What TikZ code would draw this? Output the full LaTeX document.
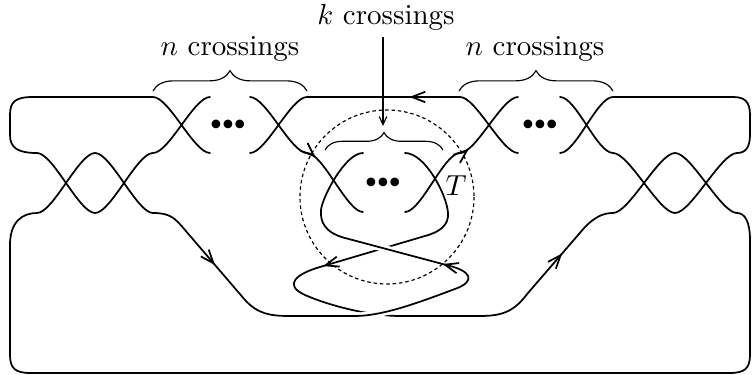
\documentclass[tikz,border=0pt]{standalone}
\usetikzlibrary{arrows.meta,decorations.markings,decorations.pathreplacing}
\begin{document}
\begin{tikzpicture}[x=0.345pt,y=-0.345pt,
    strand/.style={line width=0.6pt,line cap=round},
    over/.style={preaction={draw=white,line width=2.4pt,line cap=butt}},
    arrowat/.style={postaction={decorate},decoration={markings,mark=at position #1 with {\arrow{Straight Barb[length=4.6pt,width=3.6pt]}}}},
    crossbrace/.style={decorate,decoration={brace,amplitude=#1}}]
    \useasboundingbox (0,0) rectangle (753,375);
    \draw[strand] (210,153) .. controls (194,153) and (169,97) .. (153,97) -- (33,97)
        .. controls (15,97) and (10,102) .. (10,115) -- (10,135)
        .. controls (10,148) and (18,153) .. (37,153)
        .. controls (53,153) and (79,213) .. (95,213)
        .. controls (111,213) and (137,153) .. (153,153)
        .. controls (169,153) and (194,97) .. (210,97);
    \draw[strand] (250,97) .. controls (266,97) and (291,153) .. (307,153)
        .. controls (323,153) and (347,212) .. (363,212);
    \draw[strand] (250,153) .. controls (266,153) and (291,97) .. (307,97) -- (460,97)
        .. controls (476,97) and (502,153) .. (518,153);
    \draw[strand] (405,212) .. controls (421,212) and (444,153) .. (460,153)
        .. controls (476,153) and (502,97) .. (518,97);
    \draw[strand] (560,153) .. controls (576,153) and (597,97) .. (613,97) -- (733,97)
        .. controls (745,97) and (750,102) .. (750,115) -- (750,135)
        .. controls (750,148) and (745,153) .. (737,153)
        .. controls (721,153) and (691,213) .. (675,213)
        .. controls (659,213) and (629,153) .. (613,153)
        .. controls (597,153) and (576,97) .. (560,97);
    \draw[strand] (340,316) -- (290,316) .. controls (270,316) and (258,314) .. (245,300) -- (185,230)
        .. controls (175,218) and (170,213) .. (153,213)
        .. controls (137,213) and (111,153) .. (95,153)
        .. controls (79,153) and (53,213) .. (37,213)
        .. controls (22,213) and (10,222) .. (10,245) -- (10,355)
        .. controls (10,368) and (15,373) .. (30,373) -- (730,373)
        .. controls (745,373) and (750,368) .. (750,355) -- (750,240)
        .. controls (750,222) and (745,213) .. (737,213)
        .. controls (721,213) and (691,153) .. (675,153)
        .. controls (659,153) and (629,213) .. (613,213)
        .. controls (603,213) and (595,217) .. (585,227) -- (528,293)
        .. controls (515,310) and (505,316) .. (480,316) -- (400,316)
        .. controls (370,316) and (330,306) .. (305,295)
        .. controls (283,285) and (296,274) .. (320,267) -- (425,236)
        .. controls (440,232) and (449,225) .. (448,213)
        .. controls (447,195) and (425,153) .. (405,153);
    \draw[strand,over] (340,316) -- (355,316) .. controls (385,316) and (425,300) .. (455,289)
        .. controls (477,281) and (470,271) .. (450,266) -- (345,238);
    \draw[strand] (345,238) .. controls (325,232.7) and (320,222) .. (321,210)
        .. controls (322,198) and (345,153) .. (363,153);
    \path[strand,arrowat=0.5] (185,230) -- (245,300);
    \path[strand,arrowat=0.6] (528,293) -- (585,227);
    \path[strand,arrowat=0.07] (450,266) -- (345,238);
    \path[strand,arrowat=0.97] (425,236) -- (320,267);
    \path[strand,arrowat=0.33] (460,97) -- (307,97);
    \path[strand,arrowat=0.12] (307,153) .. controls (323,153) and (347,212) .. (363,212);
    \path[strand,arrowat=0.12] (460,153) .. controls (476,153) and (502,97) .. (518,97);
    \draw[crossbrace=7pt] (153,91) -- (307,91);
    \draw[crossbrace=7pt] (459,91) -- (613,91);
    \draw[crossbrace=6pt] (325,150) -- (443,150);
    \node[anchor=base] (nleft) at (230,56) {$n$ crossings};
    \node[anchor=base] (nright) at (535,56) {$n$ crossings};
    \node[anchor=base,inner sep=2pt] (klabel) at (386,24.5) {$k$ crossings};
    \coordinate (ktip) at (383,126);
    \draw[-{Straight Barb[length=2.8pt,width=2.6pt]}] (klabel.south -| ktip) -- (ktip);
    \node (tlabel) at (456,186) {$T$};
    \node (dotsleft) at (228,125) {\scriptsize${\bullet}{\bullet}{\bullet}$};
    \node (dotsright) at (540,125) {\scriptsize${\bullet}{\bullet}{\bullet}$};
    \node (dotsmid) at (383,183) {\scriptsize${\bullet}{\bullet}{\bullet}$};
    \draw[dash pattern=on 1.2pt off 1pt] (387,197) circle[radius=87];
\end{tikzpicture}
\end{document}
